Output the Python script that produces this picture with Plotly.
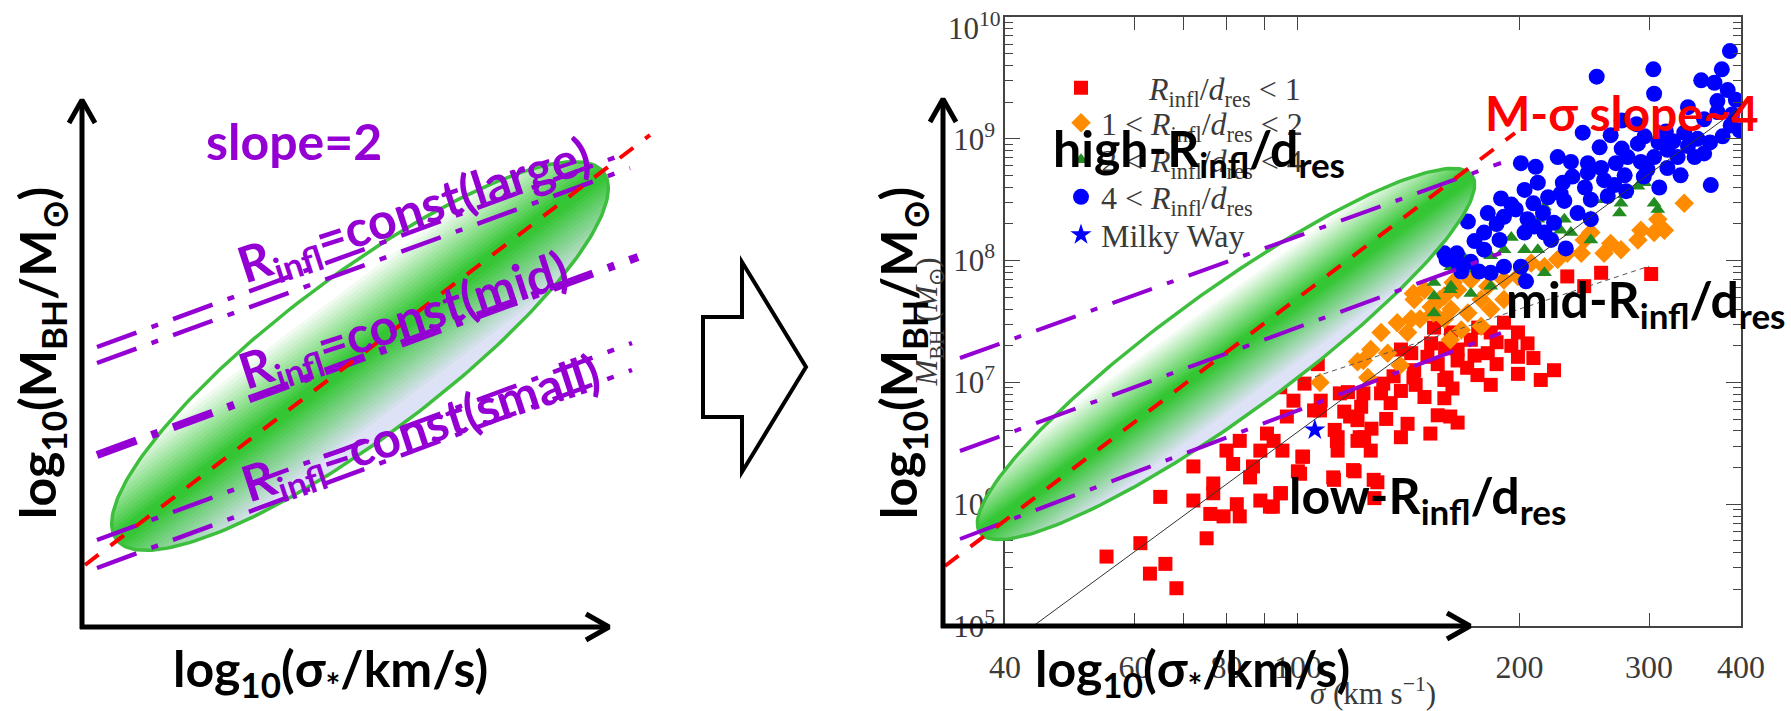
import numpy as np
import plotly.graph_objects as go

W, H = 1791, 711

# ---------------- M_BH - sigma sample: (log10 sigma [km/s], log10 M_BH [M_sun]) ----------------
red_points = [
    (2.480, 7.89), (2.412, 7.90), (2.366, 7.87), (2.389, 7.79), (2.312, 7.32), (2.280, 7.49), (2.262, 7.41),
    (2.290, 7.30), (2.235, 7.35), (2.208, 7.41), (2.181, 7.32), (2.154, 7.24), (2.140, 7.27), (2.258, 7.24),
    (2.217, 7.27), (2.240, 7.22), (2.299, 7.41), (2.185, 7.45), (2.245, 7.45), (2.200, 7.28), (2.270, 7.33),
    (2.348, 7.10), (2.299, 7.21), (2.299, 7.07), (2.262, 6.98), (2.244, 7.06), (2.217, 7.18), (2.199, 7.02),
    (2.176, 7.21), (2.172, 6.88), (2.199, 6.87), (2.217, 6.67), (2.190, 6.73), (2.149, 6.66), (2.126, 6.83),
    (2.113, 6.91), (2.140, 6.93), (2.158, 7.10), (2.086, 6.80), (2.090, 6.55), (2.099, 6.44), (2.081, 6.52),
    (2.054, 6.55), (2.054, 6.44), (2.050, 6.61), (2.063, 6.76), (2.081, 6.69), (2.031, 6.85), (2.027, 7.15),
    (2.009, 6.99), (2.068, 6.92), (2.077, 6.27), (2.049, 6.20), (2.108, 6.18), (1.977, 6.09), (2.006, 6.39),
    (1.979, 6.44), (2.104, 6.05), (1.966, 5.98), (2.000, 6.27), (2.022, 6.77),
    (2.207, 6.72), (2.202, 7.04), (2.157, 7.04), (2.116, 6.99), (2.089, 6.91), (2.057, 6.91), (2.030, 6.77),
    (2.053, 6.52), (2.084, 6.55), (2.071, 6.72), (2.007, 6.39), (2.003, 6.25), (2.048, 6.22), (2.075, 6.28),
    (2.103, 6.20), (1.985, 6.72), (1.967, 6.52), (1.949, 6.44), (1.958, 6.58), (1.939, 6.31), (1.912, 6.33),
    (1.935, 6.22), (1.976, 6.09), (1.949, 6.03), (1.962, 5.98), (1.917, 6.00), (1.885, 6.17), (1.885, 6.09),
    (1.858, 6.03), (1.881, 5.92), (1.899, 5.90), (1.921, 5.90), (1.876, 5.72), (1.813, 6.06), (1.858, 6.31),
    (1.786, 5.68), (1.740, 5.57), (1.799, 5.43), (1.820, 5.51), (1.835, 5.31), (1.921, 6.52), (1.903, 6.44),
    (1.994, 6.85), (1.976, 6.96),
    (2.190, 7.15), (2.230, 7.12), (2.270, 7.15), (2.320, 7.20), (2.330, 7.02), (2.210, 6.95), (2.160, 6.98),
    (2.130, 7.05), (2.120, 6.70), (2.100, 6.62), (2.140, 6.55), (2.180, 6.58),
]
orange_points = [
    (2.525, 8.47), (2.489, 8.34), (2.498, 8.25), (2.484, 8.23), (2.466, 8.25), (2.462, 8.17), (2.425, 8.14),
    (2.398, 8.23), (2.389, 8.17), (2.385, 8.06), (2.366, 8.06), (2.353, 8.01), (2.335, 7.95), (2.317, 7.98),
    (2.299, 7.87), (2.280, 7.84), (2.258, 7.79), (2.235, 7.84), (2.217, 7.76), (2.199, 7.71), (2.172, 7.76),
    (2.158, 7.68), (2.181, 7.62), (2.208, 7.60), (2.231, 7.57), (2.249, 7.68), (2.262, 7.60), (2.280, 7.68),
    (2.249, 7.46), (2.222, 7.43), (2.199, 7.52), (2.154, 7.52), (2.149, 7.41), (2.135, 7.49), (2.113, 7.41),
    (2.099, 7.27), (2.122, 7.24), (2.416, 8.06), (2.439, 8.09), (2.211, 7.82), (2.193, 7.68), (2.184, 7.57),
    (2.157, 7.73), (2.207, 7.35), (2.166, 7.52), (2.030, 7.00), (2.139, 7.14), (2.089, 7.18), (2.095, 7.04),
    (2.081, 7.17),
]
green_points = [
    (2.489, 8.42), (2.484, 8.47), (2.437, 8.39), (2.439, 8.47), (2.444, 8.54), (2.471, 8.64), (2.416, 8.50),
    (2.398, 8.36), (2.362, 8.34), (2.357, 8.25), (2.326, 8.34), (2.290, 8.19), (2.308, 8.09), (2.326, 8.09),
    (2.280, 8.09), (2.262, 8.04), (2.224, 8.04), (2.208, 7.95), (2.235, 7.93), (2.253, 7.90), (2.185, 7.82),
    (2.208, 7.79), (2.235, 7.73), (2.185, 7.71), (2.185, 7.57), (2.335, 7.90), (2.371, 8.23), (2.398, 8.17),
    (2.462, 8.61), (2.335, 8.44), (2.262, 7.79), (2.308, 7.87), (2.207, 7.76),
]
blue_points = [
    (2.406, 9.51), (2.483, 9.57), (2.484, 9.37), (2.587, 9.72), (2.576, 9.57), (2.548, 9.48), (2.566, 9.46),
    (2.584, 9.40), (2.595, 9.32), (2.570, 9.22), (2.552, 9.16), (2.588, 9.11), (2.600, 9.07), (2.387, 9.05),
    (2.425, 9.03), (2.471, 9.02), (2.500, 9.06), (2.525, 9.05), (2.543, 9.00), (2.577, 9.02), (2.502, 8.91),
    (2.552, 8.88), (2.448, 8.85), (2.466, 8.81), (2.484, 8.85), (2.516, 8.85), (2.303, 8.80), (2.323, 8.77),
    (2.353, 8.85), (2.371, 8.81), (2.394, 8.80), (2.412, 8.76), (2.432, 8.80), (2.444, 8.70), (2.416, 8.66),
    (2.394, 8.72), (2.373, 8.69), (2.502, 8.76), (2.561, 8.62), (2.491, 8.60), (2.357, 8.55), (2.326, 8.64),
    (2.308, 8.58), (2.276, 8.51), (2.398, 8.50), (2.421, 8.53), (2.446, 8.57), (2.231, 8.32), (2.258, 8.39),
    (2.280, 8.36), (2.296, 8.42), (2.312, 8.34), (2.333, 8.39), (2.348, 8.31), (2.362, 8.49), (2.380, 8.39),
    (2.398, 8.34), (2.253, 8.23), (2.274, 8.17), (2.308, 8.23), (2.335, 8.23), (2.253, 8.09), (2.235, 7.99),
    (2.217, 7.98), (2.199, 8.06), (2.222, 7.91), (2.246, 7.91), (2.262, 7.90), (2.280, 7.95), (2.303, 7.95),
    (2.364, 8.10), (2.344, 8.17), (2.321, 8.28), (2.310, 7.83), (2.530, 8.94), (2.462, 8.96), (2.475, 8.75),
    (2.539, 8.85), (2.202, 8.01), (2.216, 8.06),
    (2.410, 8.93), (2.440, 8.92), (2.490, 8.97), (2.510, 8.98), (2.560, 8.97), (2.520, 8.70), (2.470, 8.69),
    (2.430, 8.62), (2.390, 8.60), (2.360, 8.64), (2.340, 8.52), (2.320, 8.47), (2.290, 8.46), (2.270, 8.30),
    (2.240, 8.16), (2.590, 9.20), (2.570, 9.31), (2.530, 9.26), (2.460, 9.12), (2.440, 9.15),
]
milky_way_points = [(2.023, 6.61)]

# best-fit M-sigma relation and a slope-2 reference line (sigma in km/s, M in M_sun)
fit_sigma = [43.7, 400.0]
fit_mbh = [1.0e5, 1.84e9]
ref_sigma = [100.0, 300.0]
ref_mbh = [1.0e7, 9.0e7]

legend_labels = [
    "\u00a0" * 6 + "<i>R</i><sub>infl</sub>/<i>d</i><sub>res</sub> &lt; 1",
    "1 &lt; <i>R</i><sub>infl</sub>/<i>d</i><sub>res</sub> &lt; 2",
    "2 &lt; <i>R</i><sub>infl</sub>/<i>d</i><sub>res</sub> &lt; 4",
    "4 &lt; <i>R</i><sub>infl</sub>/<i>d</i><sub>res</sub>",
    "Milky Way",
]

x_tickvals = [40, 60, 70, 80, 90, 100, 200, 300, 400]
x_ticktext = ["40", "60", "", "80", "", "100", "200", "300", "400"]
y_exponents = [5, 6, 7, 8, 9, 10]
y_tickvals = [10.0 ** e for e in y_exponents]
y_ticktext = ["10<sup>%d</sup>" % e for e in y_exponents[:-1]] + [""]   # top label is set just inside the frame
y_minor_vals = [k * 10.0 ** e for e in range(5, 10) for k in range(2, 10)]

# ---------------- schematic geometry (local units, origin at the arrow corner) ----------------
AXIS_LEN = 527
left_lines = [  # (u0, w0, u1, w1, width)
    (15, 280, 545, 474, 4.5),
    (15, 264, 548, 459, 4.5),
    (15, 172, 556, 370, 8.0),
    (15, 87, 550, 284, 4.5),
    (15, 59, 550, 257, 4.5),
]
right_lines = [
    (17, 268, 558, 463, 4.0),
    (17, 175, 558, 373, 4.0),
    (17, 87, 558, 293, 4.0),
]
left_red = (3, 62, 568, 492)
right_red = (2, 60, 572, 493)
left_ellipse = (278, 271, 305, 80, 37)   # cx, cy, a, b, angle (deg)
right_ellipse = (283, 272, 304, 62, 36)

PURPLE = "#9400d3"
RED = "#ff0000"
GRAY = "#3a3a3a"
SERIF = "Liberation Serif"
SANS = "Lato"


def to_paper(px, py):
    return px / W, 1 - py / H


fig = go.Figure()

# ---------------- data panel ----------------
series = [
    (red_points, "square", 14, "#ff0000"),
    (orange_points, "diamond", 15, "#ff8c00"),
    (green_points, "triangle-up", 13, "#228b22"),
    (blue_points, "circle", 16, "#0000ff"),
    (milky_way_points, "star", 16, "#0000ff"),
]
legend_rows = [88, 123, 160, 197, 235]
legend_ids = ["legend", "legend2", "legend3", "legend4", "legend5"]
for (pts, sym, size, col), label, lid in zip(series, legend_labels, legend_ids):
    ls, lm = np.array(pts).T
    fig.add_trace(go.Scatter(
        x=10 ** ls, y=10 ** lm, mode="markers", name=label, legend=lid,
        marker=dict(symbol=sym, size=size, color=col, line=dict(width=0)),
        xaxis="x", yaxis="y"))

fig.add_trace(go.Scatter(x=ref_sigma, y=ref_mbh, mode="lines", showlegend=False,
                         line=dict(color="#555555", width=1, dash="5px,4px"), xaxis="x", yaxis="y"))
fig.add_trace(go.Scatter(x=fit_sigma, y=fit_mbh, mode="lines", showlegend=False,
                         line=dict(color="#333333", width=1), xaxis="x", yaxis="y"))


# ---------------- schematic overlays ----------------
def shade(s):
    green = np.array([52, 198, 52])
    edge = np.array([255, 255, 255]) if s < 0 else np.array([222, 226, 246])
    m = np.clip((abs(s) - 0.06) / 0.74, 0, 1)
    c = green * (1 - m) + edge * m
    return "rgb(%d,%d,%d)" % tuple(np.round(c).astype(int))


def add_schematic(xa, ya, ell, lines, red):
    cx, cy, a, b, ang = ell
    th = np.radians(ang)
    d = np.array([np.cos(th), np.sin(th)])
    nv = np.array([np.sin(th), -np.cos(th)])
    nb = 44
    for k in range(nb):
        s0 = -1 + 2 * k / nb
        t0 = np.arcsin(s0)
        ts = np.linspace(t0, np.pi - t0, 90)
        px = cx + a * np.cos(ts) * d[0] + b * np.sin(ts) * nv[0]
        py = cy + a * np.cos(ts) * d[1] + b * np.sin(ts) * nv[1]
        fig.add_trace(go.Scatter(x=px, y=py, mode="lines", fill="toself",
                                 fillcolor=shade(s0 + 1 / nb), line=dict(width=0),
                                 showlegend=False, hoverinfo="skip", xaxis=xa, yaxis=ya))
    ts = np.linspace(0, 2 * np.pi, 240)
    fig.add_trace(go.Scatter(
        x=cx + a * np.cos(ts) * d[0] + b * np.sin(ts) * nv[0],
        y=cy + a * np.cos(ts) * d[1] + b * np.sin(ts) * nv[1],
        mode="lines", line=dict(color="#3dbf3d", width=3.5),
        showlegend=False, hoverinfo="skip", xaxis=xa, yaxis=ya))
    for u0, w0, u1, w1, lw in lines:
        fig.add_trace(go.Scatter(x=[u0, u1], y=[w0, w1], mode="lines",
                                 line=dict(color=PURPLE, width=lw, dash="42px,16px,7px,16px"),
                                 showlegend=False, hoverinfo="skip", xaxis=xa, yaxis=ya))
    u0, w0, u1, w1 = red
    fig.add_trace(go.Scatter(x=[u0, u1], y=[w0, w1], mode="lines",
                             line=dict(color=RED, width=4, dash="17px,15px"),
                             showlegend=False, hoverinfo="skip", xaxis=xa, yaxis=ya))
    # coordinate arrows
    L = AXIS_LEN
    for xs, ys in [([0, 0], [-2, L - 2]), ([-2, L - 2], [0, 0]),
                   ([-13, 0, 13], [L - 23, L, L - 23]), ([L - 23, L, L - 23], [13, 0, -13])]:
        fig.add_trace(go.Scatter(x=xs, y=ys, mode="lines", line=dict(color="black", width=5),
                                 showlegend=False, hoverinfo="skip", xaxis=xa, yaxis=ya))


add_schematic("x2", "y2", left_ellipse, left_lines, left_red)
add_schematic("x3", "y3", right_ellipse, right_lines, right_red)

# ---------------- text ----------------
annotations = []


def text(s, cx, cy, size, color="black", angle=0, family=SANS, bold=True, xanchor="center"):
    x, y = to_paper(cx, cy)
    annotations.append(dict(text=s, x=x, y=y, xref="paper", yref="paper", showarrow=False,
                            xanchor=xanchor, yanchor="middle", textangle=angle,
                            font=dict(family=family, size=size, color=color,
                                      weight="bold" if bold else "normal")))


RINFL = "R<sub>infl</sub>"
text("slope=2", 294, 141, 50, PURPLE)
text(RINFL + "=const(large)", 414, 212, 50, PURPLE, -18)
text(RINFL + "=const(mid)", 404, 322, 50, PURPLE, -18)
text(RINFL + "=const(small)", 421, 430, 50, PURPLE, -18)
ylab = "log<sub>10</sub>(M<sub>BH</sub>/M<sub>\u2299</sub>)"
xlab = "log<sub>10</sub>(\u03c3<sub>*</sub>/km/s)"
text(ylab, 40, 353, 50, angle=-90)
text(xlab, 330, 671, 50)
text(ylab, 901, 353, 50, angle=-90)
text(xlab, 1192, 671, 50)
text("high-" + RINFL + "/d<sub>res</sub>", 1199, 151, 50)
text("mid-" + RINFL + "/d<sub>res</sub>", 1645, 302, 50)
text("low-" + RINFL + "/d<sub>res</sub>", 1427, 498, 50)
text("M-\u03c3 slope~4", 1622, 112, 48, RED)
# top y tick label of the data panel, kept inside the page
text("10<sup>%d</sup>" % y_exponents[-1], 1003, 26, 31, GRAY, family=SERIF, bold=False, xanchor="right")

# block arrow between the panels
arrow_pts = [(703, 317), (742, 317), (742, 262), (806, 367), (742, 472), (742, 417), (703, 417)]
path = "M " + " L ".join("%.5f,%.5f" % to_paper(px, py) for px, py in arrow_pts) + " Z"

axis_common = dict(showgrid=False, zeroline=False, showline=True, linecolor="#444444", linewidth=1.5,
                   mirror="allticks", ticks="inside", tickcolor="#444444", tickwidth=1.3,
                   ticklabeloverflow="allow", automargin=False, fixedrange=True)
hidden = dict(visible=False, showgrid=False, zeroline=False, fixedrange=True, automargin=False)

legends = {}
for lid, row in zip(legend_ids, legend_rows):
    legends[lid] = dict(x=1061 / W, y=1 - row / H, xanchor="left", yanchor="middle",
                        bgcolor="rgba(0,0,0,0)", borderwidth=0,
                        font=dict(family=SERIF, size=32, color=GRAY))

fig.update_layout(
    width=W, height=H, margin=dict(l=0, r=0, t=0, b=0, autoexpand=False),
    paper_bgcolor="white", plot_bgcolor="rgba(0,0,0,0)", hovermode=False,
    xaxis=dict(type="log", range=[np.log10(40), np.log10(400)], domain=[1005 / W, 1741 / W],
               tickmode="array", tickvals=x_tickvals, ticktext=x_ticktext, ticklen=13,
               ticklabelstandoff=12, tickfont=dict(family=SERIF, size=32, color=GRAY),
               title=dict(text="<i>\u03c3</i> (km s<sup>\u22121</sup>)", standoff=0,
                          font=dict(family=SERIF, size=31, color=GRAY)),
               anchor="y", **axis_common),
    yaxis=dict(type="log", range=[5, 10], domain=[1 - 626 / H, 1 - 17 / H],
               tickmode="array", tickvals=y_tickvals, ticktext=y_ticktext,
               ticklen=15, ticklabelstandoff=2, tickfont=dict(family=SERIF, size=31, color=GRAY),
               minor=dict(ticks="inside", ticklen=8, tickwidth=1.2, tickcolor="#444444",
                          tickmode="array", tickvals=y_minor_vals),
               title=dict(text="<i>M</i><sub>BH</sub> (<i>M</i><sub>\u2299</sub>)", standoff=6,
                          font=dict(family=SERIF, size=31, color=GRAY)),
               anchor="x", **axis_common),
    xaxis2=dict(domain=[0, 700 / W], range=[-82, 618], anchor="y2", **hidden),
    yaxis2=dict(domain=[0, 1], range=[-84, 627], anchor="x2", **hidden),
    xaxis3=dict(domain=[880 / W, 1], range=[-63, 848], anchor="y3", **hidden),
    yaxis3=dict(domain=[0, 1], range=[-85, 626], anchor="x3", **hidden),
    annotations=annotations,
    shapes=[dict(type="path", path=path, xref="paper", yref="paper",
                 line=dict(color="black", width=4), fillcolor="white", layer="above")],
    **legends,
)

fig.write_html("out.html")
